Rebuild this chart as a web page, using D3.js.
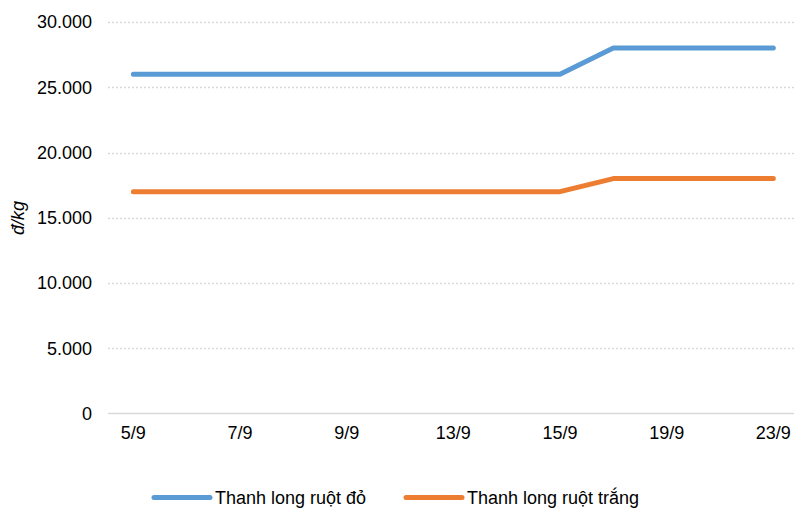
<!DOCTYPE html>
<html><head><meta charset="utf-8">
<script src="https://cdn.jsdelivr.net/npm/d3@7"></script>
<style>
html,body{margin:0;padding:0;background:#fff;}
svg{display:block;font-family:"Liberation Sans",Arial,sans-serif;}
</style></head>
<body>
<svg id="chart" width="794" height="509"></svg>
<script>
const categories = ["5/9","6/9","7/9","8/9","9/9","12/9","13/9","14/9","15/9","16/9","19/9","20/9","23/9"];
const tickLabels = ["5/9","7/9","9/9","13/9","15/9","19/9","23/9"];
const seriesNames = ["Thanh long ruột đỏ","Thanh long ruột trắng"];
const redValues = [26000,26000,26000,26000,26000,26000,26000,26000,26000,28000,28000,28000,28000];
const whiteValues = [17000,17000,17000,17000,17000,17000,17000,17000,17000,18000,18000,18000,18000];
const yTicks = [0,5000,10000,15000,20000,25000,30000];
const colors = ["#5B9BD5","#ED7D31"];
const yTitle = "đ/kg";

const svg = d3.select("#chart");
const x = d3.scaleBand().domain(categories).range([106.7, 800]).padding(0);
const y = d3.scaleLinear().domain([0,30000]).range([413.5, 22]);
const cx = d => x(d) + x.bandwidth()/2;
const fmt = v => d3.format(",")(v).replace(/,/g, ".");

// gridlines
svg.append("g").selectAll("line").data(yTicks.filter(v => v > 0)).join("line")
  .attr("x1", 108).attr("x2", 794)
  .attr("y1", d => Math.round(y(d)) + 0.5).attr("y2", d => Math.round(y(d)) + 0.5)
  .attr("stroke", "#d9d9d9").attr("stroke-width", 1.3).attr("stroke-dasharray", "2,2");

// baseline
svg.append("line").attr("x1", 108).attr("x2", 794)
  .attr("y1", y(0)).attr("y2", y(0))
  .attr("stroke", "#d9d9d9").attr("stroke-width", 1.5);

// y axis
const yAxis = d3.axisLeft(y).tickValues(yTicks).tickFormat(fmt).tickSize(0).tickPadding(0);
const yg = svg.append("g").attr("transform", "translate(92,0)").call(yAxis);
yg.select(".domain").remove();
yg.selectAll("text").attr("font-size", 18).attr("fill", "#000")
  .attr("font-family", "'Liberation Sans',Arial,sans-serif");

// x axis
const xAxis = d3.axisBottom(x).tickValues(tickLabels).tickSize(0).tickPadding(0);
const xg = svg.append("g").attr("transform", "translate(0,426)").call(xAxis);
xg.select(".domain").remove();
xg.selectAll("text").attr("font-size", 18).attr("fill", "#000")
  .attr("font-family", "'Liberation Sans',Arial,sans-serif");

// y title
svg.append("text").attr("transform", "translate(24,218) rotate(-90)")
  .attr("text-anchor", "middle").attr("font-size", 18).attr("font-style", "italic")
  .attr("fill", "#000").text(yTitle);

// lines
const line = d3.line().x((d,i) => cx(categories[i])).y(d => y(d));
[redValues, whiteValues].forEach((vals, k) => {
  svg.append("path").datum(vals).attr("d", line)
    .attr("fill", "none").attr("stroke", colors[k]).attr("stroke-width", 5)
    .attr("stroke-linecap", "round").attr("stroke-linejoin", "round");
});

// legend
const legendX = [154, 406];
seriesNames.forEach((name, k) => {
  const g = svg.append("g").attr("transform", `translate(${legendX[k]},497.5)`);
  g.append("line").attr("x1", 0).attr("x2", 56).attr("y1", 0).attr("y2", 0)
    .attr("stroke", colors[k]).attr("stroke-width", 5).attr("stroke-linecap", "round");
  g.append("text").attr("x", 61).attr("y", 0).attr("dy", "0.35em")
    .attr("font-size", 18).attr("fill", "#000").text(name);
});
</script>
</body></html>
